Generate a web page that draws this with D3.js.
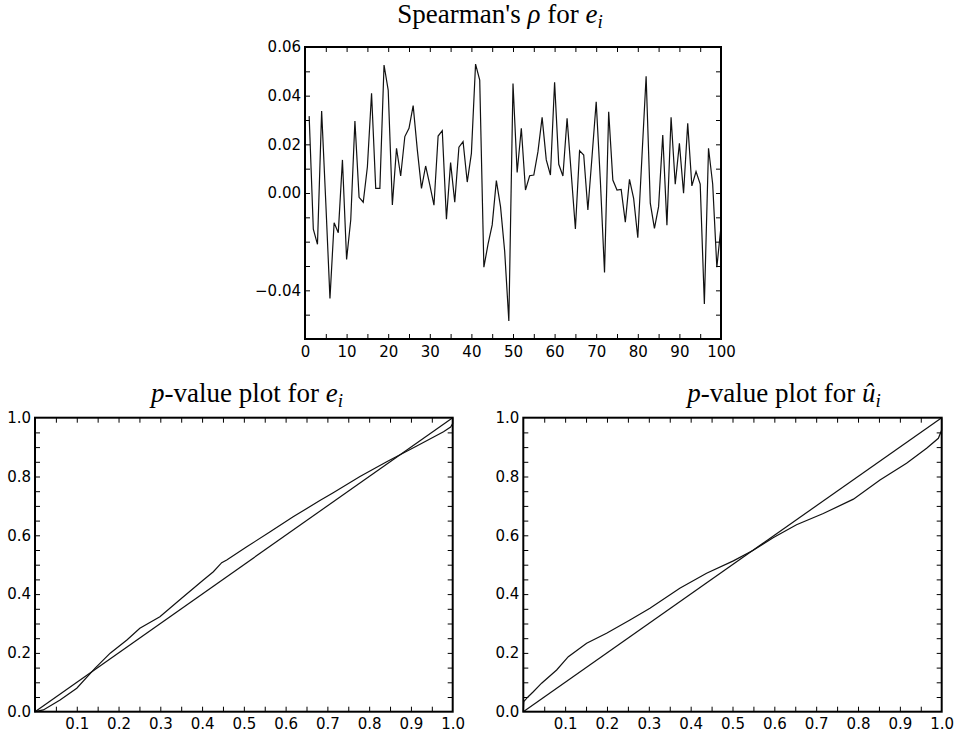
<!DOCTYPE html>
<html>
<head>
<meta charset="utf-8">
<script src="https://cdn.jsdelivr.net/npm/d3@7"></script>
<style>
  html, body { margin: 0; padding: 0; background: #fff; }
  svg { display: block; }
  .tick text { font-family: "DejaVu Sans", sans-serif; font-size: 15px; fill: #000; }
  .ttl { font-family: "Liberation Serif", "Times New Roman", serif; font-size: 27px; fill: #000; }
</style>
</head>
<body>
<svg id="chart" width="960" height="735"></svg>
<script>
// ---------- data ----------
// Spearman's rho for e_i at lags 1..100
const rhoValues = [
  0.0316, -0.0149, -0.0211, 0.0337, -0.0040, -0.0433, -0.0122, -0.0163, 0.0136, -0.0273,
  -0.0110, 0.0296, -0.0018, -0.0038, 0.0108, 0.0410, 0.0019, 0.0019, 0.0526, 0.0423,
  -0.0049, 0.0184, 0.0070, 0.0232, 0.0266, 0.0359, 0.0177, 0.0019, 0.0111, 0.0033,
  -0.0050, 0.0234, 0.0256, -0.0108, 0.0125, -0.0038, 0.0188, 0.0211, 0.0045, 0.0163,
  0.0530, 0.0464, -0.0305, -0.0210, -0.0131, 0.0051, -0.0056, -0.0240, -0.0526, 0.0450,
  0.0084, 0.0266, 0.0012, 0.0071, 0.0074, 0.0170, 0.0311, 0.0136, 0.0074, 0.0455,
  0.0118, 0.0070, 0.0307, 0.0080, -0.0148, 0.0174, 0.0156, -0.0070, 0.0150, 0.0375,
  0.0050, -0.0327, 0.0334, 0.0053, 0.0012, 0.0015, -0.0120, 0.0056, -0.0022, -0.0184,
  0.0150, 0.0480, -0.0042, -0.0145, -0.0056, 0.0238, -0.0132, 0.0311, 0.0036, 0.0204,
  -0.0001, 0.0286, 0.0029, 0.0088, 0.0037, -0.0456, 0.0184, 0.0037, -0.0305, -0.0138
];
const rhoXLabels = [0, 10, 20, 30, 40, 50, 60, 70, 80, 90, 100];
const rhoXMinor = [5, 10, 15, 20, 25, 30, 35, 40, 45, 50, 55, 60, 65, 70, 75, 80, 85, 90, 95];
const rhoYLabels = [0.06, 0.04, 0.02, 0.00, -0.04];
const rhoYMinor = [-0.05, -0.04, -0.03, -0.02, -0.01, 0, 0.01, 0.02, 0.03, 0.04, 0.05];

// p-value plot for e_i (empirical curve)
const peX = [0, 0.02, 0.06, 0.10, 0.144, 0.18, 0.22, 0.251, 0.299, 0.351, 0.403, 0.427, 0.447, 0.459,
  0.507, 0.563, 0.618, 0.682, 0.714, 0.778, 0.842, 0.914, 0.978, 0.995, 1.0, 1.0];
const peY = [0, 0.006, 0.040, 0.080, 0.148, 0.199, 0.244, 0.284, 0.323, 0.386, 0.448, 0.476, 0.507, 0.516,
  0.561, 0.612, 0.663, 0.718, 0.745, 0.800, 0.850, 0.904, 0.952, 0.968, 0.980, 1.0];

// p-value plot for u-hat_i (empirical curve)
const puX = [0, 0.001, 0.0116, 0.0239, 0.0438, 0.0797, 0.1076, 0.1514, 0.199, 0.2549, 0.3027, 0.374,
  0.438, 0.502, 0.5496, 0.597, 0.653, 0.717, 0.789, 0.8525, 0.916, 0.964, 0.992, 1.0, 1.0];
const puY = [0, 0.034, 0.051, 0.068, 0.097, 0.142, 0.187, 0.233, 0.267, 0.312, 0.352, 0.420,
  0.471, 0.513, 0.549, 0.592, 0.636, 0.674, 0.723, 0.788, 0.845, 0.896, 0.930, 0.958, 0.998];

// reference diagonal
const diagX = [0, 1];
const diagY = [0, 1];

const pXLabels = [0.1, 0.2, 0.3, 0.4, 0.5, 0.6, 0.7, 0.8, 0.9, 1.0];
const pXMinor = [0.05, 0.1, 0.15, 0.2, 0.25, 0.3, 0.35, 0.4, 0.45, 0.5, 0.55, 0.6, 0.65, 0.7, 0.75, 0.8, 0.85, 0.9, 0.95];
const pYLabels = [0.0, 0.2, 0.4, 0.6, 0.8, 1.0];
const pYMinor = [0.05, 0.1, 0.15, 0.2, 0.25, 0.3, 0.35, 0.4, 0.45, 0.5, 0.55, 0.6, 0.65, 0.7, 0.75, 0.8, 0.85, 0.9, 0.95];

// ---------- drawing ----------
const svg = d3.select("#chart");
const TICK = 5;

function panel(x, y, opts) {
  const g = svg.append("g");
  const [x0, x1] = x.range();
  const [y0, y1] = y.range(); // y0 bottom, y1 top
  // inward ticks on all four sides
  g.append("g").attr("transform", `translate(0,${y0})`)
    .call(d3.axisBottom(x).tickValues(opts.xMinor).tickSize(-TICK).tickFormat(""));
  g.append("g").attr("transform", `translate(0,${y1})`)
    .call(d3.axisTop(x).tickValues(opts.xMinor).tickSize(-TICK).tickFormat(""));
  g.append("g").attr("transform", `translate(${x0},0)`)
    .call(d3.axisLeft(y).tickValues(opts.yMinor).tickSize(-TICK).tickFormat(""));
  g.append("g").attr("transform", `translate(${x1},0)`)
    .call(d3.axisRight(y).tickValues(opts.yMinor).tickSize(-TICK).tickFormat(""));
  // labels
  g.append("g").attr("transform", `translate(0,${y0})`)
    .call(d3.axisBottom(x).tickValues(opts.xLabels).tickSize(0).tickPadding(7).tickFormat(opts.xFmt));
  g.append("g").attr("transform", `translate(${x0},0)`)
    .call(d3.axisLeft(y).tickValues(opts.yLabels).tickSize(0).tickPadding(4).tickFormat(opts.yFmt));
  g.selectAll(".domain").remove();
  g.selectAll(".tick line").attr("stroke", "#000").attr("stroke-width", 1);
  return g;
}

function frame(g, x, y) {
  const [x0, x1] = x.range();
  const [y0, y1] = y.range();
  g.append("rect").attr("x", x0).attr("y", y1).attr("width", x1 - x0).attr("height", y0 - y1)
    .attr("fill", "none").attr("stroke", "#000").attr("stroke-width", 2);
}

const minusFmt = (f) => (d) => f(d).replace("-", "\u2212");

// --- top: Spearman's rho ---
const xTop = d3.scaleLinear([0, 100], [305, 721]);
const yTop = d3.scaleLinear([-0.06, 0.06], [339, 47]);
const gTop = panel(xTop, yTop, {
  xMinor: rhoXMinor, yMinor: rhoYMinor, xLabels: rhoXLabels, yLabels: rhoYLabels,
  xFmt: d3.format("d"), yFmt: minusFmt(d3.format(".2f"))
});
const lineTop = d3.line().x((d, i) => xTop(i + 1)).y(d => yTop(d));
gTop.append("path").datum(rhoValues).attr("d", lineTop)
  .attr("fill", "none").attr("stroke", "#111").attr("stroke-width", 1.2).attr("stroke-linejoin", "miter");
frame(gTop, xTop, yTop);

// --- bottom left / right ---
const yBot = d3.scaleLinear([0, 1], [711.7, 417.7]);
const xBL = d3.scaleLinear([0, 1], [35, 452.7]);
const xBR = d3.scaleLinear([0, 1], [523.3, 941.7]);
const pOpts = {
  xMinor: pXMinor, yMinor: pYMinor, xLabels: pXLabels, yLabels: pYLabels,
  xFmt: d3.format(".1f"), yFmt: d3.format(".1f")
};
function pPanel(x, cx, cy) {
  const g = panel(x, yBot, pOpts);
  const ln = d3.line().x(d => x(d[0])).y(d => yBot(d[1]));
  g.append("path").datum(d3.zip(diagX, diagY)).attr("d", ln)
    .attr("fill", "none").attr("stroke", "#111").attr("stroke-width", 1.2);
  g.append("path").datum(d3.zip(cx, cy)).attr("d", ln)
    .attr("fill", "none").attr("stroke", "#111").attr("stroke-width", 1.2);
  frame(g, x, yBot);
}
pPanel(xBL, peX, peY);
pPanel(xBR, puX, puY);

// ---------- titles ----------
function title(cx, by, parts) {
  const t = svg.append("text").attr("class", "ttl").attr("x", cx).attr("y", by).attr("text-anchor", "middle");
  parts.forEach(p => {
    const s = t.append("tspan").text(p.t);
    if (p.it) s.attr("font-style", "italic");
    if (p.sub) s.attr("font-size", "19px").attr("dy", 5);
  });
}
title(500, 23, [{t: "Spearman's "}, {t: "\u03c1", it: true}, {t: " for "}, {t: "e", it: true}, {t: "i", it: true, sub: true}]);
title(247, 401.5, [{t: "p", it: true}, {t: "-value plot for "}, {t: "e", it: true}, {t: "i", it: true, sub: true}]);
title(784, 401.5, [{t: "p", it: true}, {t: "-value plot for "}, {t: "\u00fb", it: true}, {t: "i", it: true, sub: true}]);
</script>
</body>
</html>
